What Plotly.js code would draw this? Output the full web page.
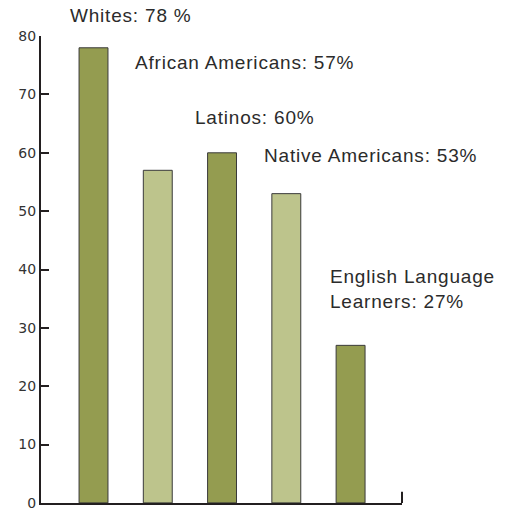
<!DOCTYPE html>
<html>
<head>
<meta charset="utf-8">
<script src="https://cdn.plot.ly/plotly-3.0.1.min.js"></script>
<style>
html,body{margin:0;padding:0;background:#fff}
#chart{width:505px;height:510px}
.annotation-text{letter-spacing:0.8px}
</style>
</head>
<body>
<div id="chart"></div>
<script>
const categories = ["Whites", "African Americans", "Latinos", "Native Americans", "English Language Learners"];
const values = [78, 57, 60, 53, 27];
const labels = ["Whites: 78 %", "African Americans: 57%", "Latinos: 60%", "Native Americans: 53%", "English Language<br>Learners: 27%"];
const yTicks = [0, 10, 20, 30, 40, 50, 60, 70, 80];

const dark = "#949c50", light = "#bdc48c";
const colors = categories.map((c, i) => i % 2 === 0 ? dark : light);
const xIdx = categories.map((c, i) => i);

// label positions (category offset, value on the 0-80 scale)
const labelX = [-0.40, 0.61, 1.55, 2.62, 3.65];
const labelY = [83.6, 75.4, 66.0, 59.6, 36.6];

const trace = {
  type: "bar",
  x: xIdx,
  y: values,
  width: 0.45,
  marker: {color: colors, line: {color: "#3a3a3a", width: 1}},
  hoverinfo: "skip"
};

const yMin = -0.02, yMax = 80.02;

const layout = {
  width: 505, height: 510,
  margin: {l: 41, r: 103, t: 36, b: 7},
  paper_bgcolor: "#fff", plot_bgcolor: "#fff",
  showlegend: false,
  xaxis: {
    range: [-0.817, 4.80], showgrid: false, zeroline: false,
    showticklabels: false, ticks: "",
    showline: true, linecolor: "#231f20", linewidth: 2
  },
  yaxis: {
    range: [yMin, yMax], tickvals: yTicks, showgrid: false, zeroline: false,
    showline: true, linecolor: "#231f20", linewidth: 2,
    ticks: "inside", ticklen: 8, tickwidth: 2, tickcolor: "#231f20",
    ticklabeloverflow: "allow",
    tickfont: {family: "DejaVu Sans", size: 14, color: "#333"}
  },
  shapes: [{
    type: "line", xref: "paper", yref: "y", x0: 1, x1: 1, y0: 0, y1: 1.9,
    line: {color: "#231f20", width: 2}
  }],
  annotations: labels.map((t, i) => ({
    text: t, x: labelX[i], y: (labelY[i] - yMin) / (yMax - yMin), xref: "x", yref: "paper",
    xanchor: "left", yanchor: "middle", align: "left", showarrow: false,
    font: {family: "Liberation Sans, Arial", size: 19, color: "#2b2b2b"}
  }))
};

Plotly.newPlot("chart", [trace], layout, {displayModeBar: false, staticPlot: true});
</script>
</body>
</html>
